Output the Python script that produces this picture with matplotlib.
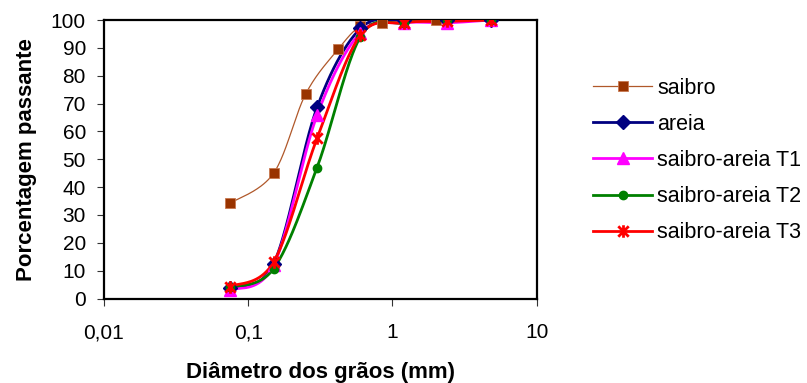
import numpy as np
import matplotlib
matplotlib.use("Agg")
import matplotlib.pyplot as plt
from matplotlib.path import Path
from matplotlib.ticker import FixedLocator, FixedFormatter, NullLocator

plt.rcParams['font.family'] = ['Liberation Sans', 'DejaVu Sans']

# Sieve openings (mm)
saibro_d = [0.075, 0.15, 0.25, 0.42, 0.6, 0.85, 2.0, 4.8]
sand_d = [0.075, 0.15, 0.3, 0.6, 1.2, 2.4, 4.8]

# Percent passing
saibro_p = [34.2, 45.0, 73.4, 89.5, 97.8, 98.8, 100.0, 100.0]
areia_p = [3.8, 12.5, 68.6, 97.0, 100.0, 100.0, 100.0]
t1_p = [3.0, 12.0, 65.8, 95.5, 99.0, 99.0, 100.0]
t2_p = [4.0, 10.7, 47.0, 94.0, 99.0, 100.0, 100.0]
t3_p = [4.3, 13.1, 57.5, 94.6, 99.0, 99.5, 100.0]

series_names = ["saibro", "areia", "saibro-areia T1", "saibro-areia T2", "saibro-areia T3"]

x_ticks = [0.01, 0.1, 1, 10]
x_ticklabels = ["0,01", "0,1", "1", "10"]
y_ticks = list(range(0, 101, 10))

W, H = 807, 383
fig = plt.figure(figsize=(W / 100, H / 100), dpi=100)
ax = fig.add_axes([104 / W, 1 - 298.5 / H, (536.7 - 104) / W, (298.5 - 20) / H])

# Asterisk marker: an X crossed by a vertical stroke
star_path = Path(
    [(-1, -1), (1, 1), (-1, 1), (1, -1), (0, -1.2), (0, 1.2)],
    [Path.MOVETO, Path.LINETO, Path.MOVETO, Path.LINETO, Path.MOVETO, Path.LINETO],
)


def smooth(xs, ys, n=40):
    """Bezier smoothing through the points, computed in screen-like space."""
    sx, sy = 144.0, 2.78  # px per decade, px per percent
    px = np.log10(np.asarray(xs, float)) * sx
    py = np.asarray(ys, float) * sy
    pts = np.column_stack([px, py])
    out = [pts[0]]
    m = len(pts)
    for i in range(m - 1):
        p0 = pts[i - 1] if i > 0 else pts[i]
        p1 = pts[i]
        p2 = pts[i + 1]
        p3 = pts[i + 2] if i + 2 < m else pts[i + 1]
        c1 = p1 + (p2 - p0) / 6.0
        c2 = p2 - (p3 - p1) / 6.0
        t = np.linspace(0, 1, n)[1:, None]
        seg = ((1 - t) ** 3) * p1 + 3 * ((1 - t) ** 2) * t * c1 + 3 * (1 - t) * t ** 2 * c2 + t ** 3 * p2
        out.extend(seg)
    out = np.array(out)
    return 10 ** (out[:, 0] / sx), out[:, 1] / sy


styles = [
    (saibro_d, saibro_p, dict(color="#B0582A", lw=0.9), dict(marker="s", ms=6.5, mfc="#993300", mec="#C87850", mew=0.6)),
    (sand_d, areia_p, dict(color="#000080", lw=2.0), dict(marker="D", ms=7.5, mfc="#000080", mec="#000080")),
    (sand_d, t1_p, dict(color="#FF00FF", lw=2.0), dict(marker="^", ms=9, mfc="#FF00FF", mec="#FF00FF")),
    (sand_d, t2_p, dict(color="#008000", lw=2.0), dict(marker="o", ms=6, mfc="#008000", mec="#008000")),
    (sand_d, t3_p, dict(color="#FF0000", lw=2.0), dict(marker=star_path, ms=9, mfc="none", mec="#FF0000", mew=2.0)),
]

handles = []
for (xd, yd, lstyle, mstyle), name in zip(styles, series_names):
    sxs, sys_ = smooth(xd, yd)
    ax.plot(sxs, sys_, solid_capstyle="round", zorder=3, **lstyle)
    ax.plot(xd, yd, ls="none", zorder=4, **mstyle)
    h, = ax.plot([], [], label=name, **lstyle, **mstyle)
    handles.append(h)

ax.set_xscale("log")
ax.set_xlim(0.01, 10)
ax.set_ylim(0, 100)
ax.xaxis.set_major_locator(FixedLocator(x_ticks))
ax.xaxis.set_major_formatter(FixedFormatter(x_ticklabels))
ax.xaxis.set_minor_locator(NullLocator())
ax.set_yticks(y_ticks)
ax.set_yticklabels([str(v) for v in y_ticks])

for sp in ax.spines.values():
    sp.set_linewidth(1.6)
    sp.set_color("black")

ax.tick_params(axis="both", which="major", direction="out", length=5, width=0.8,
               color="#333333", labelsize=15, labelcolor="black")
ax.tick_params(axis="x", pad=13)
ax.tick_params(axis="y", pad=8)

ax.set_xlabel("Diâmetro dos grãos (mm)", fontsize=16, fontweight="bold", labelpad=14)
ax.set_ylabel("Porcentagem passante", fontsize=16, fontweight="bold", labelpad=10)

fig.legend(handles=handles, loc="center left", bbox_to_anchor=(593 / W, 1 - 160.5 / H),
           frameon=False, fontsize=15.5, handlelength=2.75, handletextpad=0.23,
           labelspacing=0.70, borderpad=0, borderaxespad=0)

fig.savefig("out.png", dpi=100, facecolor="white")
